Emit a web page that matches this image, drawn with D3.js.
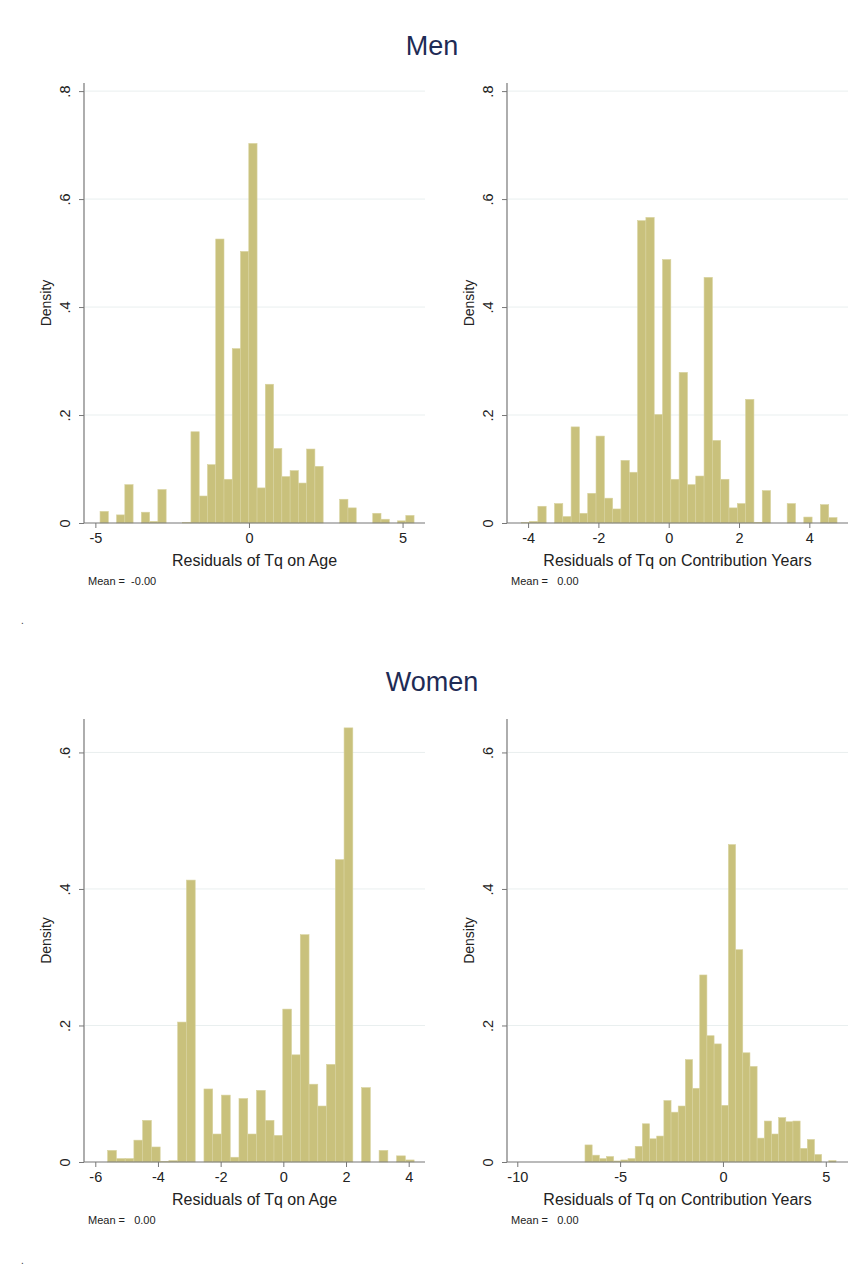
<!DOCTYPE html>
<html><head><meta charset="utf-8">
<script src="https://cdn.jsdelivr.net/npm/d3@7"></script>
<style>body{margin:0;background:#fff}svg{display:block}text{font-family:"Liberation Sans",Arial,sans-serif}</style>
</head><body>
<script>
// ---- data ----
const menAgeStart = -4.848, menAgeWidth = 0.269;
const menAgeDensity = [0.0215,0,0.015,0.071,0,0.02,0.003,0.062,0,0,0.001,0.169,0.05,0.108,0.526,0.081,0.323,0.503,0.703,0.065,0.257,0.138,0.086,0.097,0.074,0.137,0.105,0,0,0.044,0.028,0,0,0.018,0.007,0,0.004,0.014];
const menCyStart = -4.195, menCyWidth = 0.2364;
const menCyDensity = [0.001,0.003,0.031,0,0.036,0.012,0.178,0.018,0.055,0.161,0.046,0.026,0.116,0.094,0.56,0.566,0.201,0.488,0.081,0.279,0.071,0.087,0.455,0.153,0.081,0.028,0.036,0.229,0.001,0.06,0,0,0.036,0,0.011,0,0.034,0.01];
const womenAgeStart = -5.606, womenAgeWidth = 0.2794;
const womenAgeDensity = [0.017,0.005,0.005,0.032,0.061,0.022,0.001,0.002,0.205,0.413,0,0.107,0.041,0.098,0.007,0.093,0.041,0.105,0.061,0.039,0.224,0.157,0.333,0.114,0.082,0.143,0.443,0.636,0,0.109,0,0.017,0,0.009,0.003];
const womenCyStart = -6.708, womenCyWidth = 0.3487;
const womenCyDensity = [0.025,0.01,0.005,0.008,0.0015,0.003,0.005,0.023,0.056,0.034,0.038,0.09,0.073,0.082,0.15,0.108,0.274,0.185,0.173,0.083,0.465,0.311,0.16,0.14,0.035,0.06,0.041,0.065,0.059,0.06,0.02,0.033,0.011,0,0.002];

const menAgeXTicks = [-5,0,5];
const menCyXTicks = [-4,-2,0,2,4];
const womenAgeXTicks = [-6,-4,-2,0,2,4];
const womenCyXTicks = [-10,-5,0,5];
const menYTicks = [0,0.2,0.4,0.6,0.8];
const womenYTicks = [0,0.2,0.4,0.6];
const groupTitles = ["Men","Women"];
const xTitles = ["Residuals of Tq on Age","Residuals of Tq on Contribution Years"];
const meanLabels = ["Mean =  -0.00","Mean =   0.00","Mean =   0.00","Mean =   0.00"];

// ---- drawing ----
const W = 865, H = 1279;
const svg = d3.select("body").append("svg").attr("width", W).attr("height", H);

const fmtY = d => d === 0 ? "0" : d3.format(".1f")(d).replace(/^0/, "");

function panel(cfg) {
  const x = d3.scaleLinear().domain(cfg.xDomain).range([cfg.left, cfg.right]);
  const y = d3.scaleLinear().domain(cfg.yDomain).range([cfg.bottom, cfg.top]);
  const g = svg.append("g");
  // grid
  g.selectAll("line.grid").data(cfg.yTicks.filter(d => d > 0)).join("line")
    .attr("x1", cfg.left + 1).attr("x2", cfg.right).attr("y1", d => y(d)).attr("y2", d => y(d))
    .attr("stroke", "#e9efef").attr("stroke-width", 1);
  // bars
  const bins = cfg.density.map((d, i) => ({x0: cfg.start + i * cfg.width, x1: cfg.start + (i + 1) * cfg.width, v: d}));
  g.selectAll("rect.bar").data(bins.filter(b => b.v > 0)).join("rect")
    .attr("x", b => x(b.x0)).attr("width", b => x(b.x1) - x(b.x0))
    .attr("y", b => y(b.v)).attr("height", b => y(0) - y(b.v))
    .attr("fill", "#c9c17c").attr("stroke", "#d8d29e").attr("stroke-width", 0.6);
  // x axis
  const xa = g.append("g").attr("transform", `translate(0,${cfg.bottom})`)
    .call(d3.axisBottom(x).tickValues(cfg.xTicks).tickSize(5).tickPadding(5).tickFormat(d3.format("d")));
  xa.select(".domain").attr("stroke", "#777").attr("stroke-width", 1.2).attr("d", `M${cfg.left},0H${cfg.right}`);
  xa.selectAll(".tick line").attr("stroke", "#777");
  xa.selectAll(".tick text").attr("font-size", 14.5).attr("fill", "#222").text(d => d < 0 ? "-" + Math.abs(d) : d);
  // y axis
  const ya = g.append("g").attr("transform", `translate(${cfg.left},0)`)
    .call(d3.axisLeft(y).tickValues(cfg.yTicks).tickSize(5).tickFormat(fmtY));
  ya.select(".domain").attr("stroke", "#777").attr("stroke-width", 1.2).attr("d", `M0,${cfg.top}V${cfg.bottom}`);
  ya.selectAll(".tick line").attr("stroke", "#777");
  ya.selectAll(".tick text").attr("font-size", 14.5).attr("fill", "#222")
    .attr("text-anchor", "middle").attr("x", 0).attr("y", 0).attr("dy", "0.35em")
    .attr("transform", "translate(-19,0) rotate(-90)");
  // labels
  svg.append("text").attr("transform", `translate(${cfg.left - 33},${(cfg.top + cfg.bottom) / 2}) rotate(-90)`)
    .attr("text-anchor", "middle").attr("font-size", 14).attr("fill", "#222").text("Density");
  svg.append("text").attr("x", (cfg.left + cfg.right) / 2).attr("y", cfg.bottom + 43)
    .attr("text-anchor", "middle").attr("font-size", 16).attr("fill", "#222").text(cfg.xTitle);
  svg.append("text").attr("x", cfg.left + 4).attr("y", cfg.bottom + 62)
    .attr("font-size", 11).attr("fill", "#222").style("white-space", "pre").text(cfg.mean);
}

panel({left: 84, right: 425, top: 83, bottom: 523, xDomain: [-5.37, 5.73], yDomain: [0, 0.815],
  xTicks: menAgeXTicks, yTicks: menYTicks, start: menAgeStart, width: menAgeWidth, density: menAgeDensity,
  xTitle: xTitles[0], mean: meanLabels[0]});
panel({left: 507, right: 848, top: 83, bottom: 523, xDomain: [-4.6, 5.1], yDomain: [0, 0.815],
  xTicks: menCyXTicks, yTicks: menYTicks, start: menCyStart, width: menCyWidth, density: menCyDensity,
  xTitle: xTitles[1], mean: meanLabels[1]});
panel({left: 84, right: 425, top: 719, bottom: 1162, xDomain: [-6.36, 4.52], yDomain: [0, 0.649],
  xTicks: womenAgeXTicks, yTicks: womenYTicks, start: womenAgeStart, width: womenAgeWidth, density: womenAgeDensity,
  xTitle: xTitles[0], mean: meanLabels[2]});
panel({left: 507, right: 848, top: 719, bottom: 1162, xDomain: [-10.5, 6.08], yDomain: [0, 0.649],
  xTicks: womenCyXTicks, yTicks: womenYTicks, start: womenCyStart, width: womenCyWidth, density: womenCyDensity,
  xTitle: xTitles[1], mean: meanLabels[3]});

// group titles
svg.append("text").attr("x", 432).attr("y", 55).attr("text-anchor", "middle")
  .attr("font-size", 27).attr("fill", "#1e2b55").text(groupTitles[0]);
svg.append("text").attr("x", 432).attr("y", 691).attr("text-anchor", "middle")
  .attr("font-size", 27).attr("fill", "#1e2b55").text(groupTitles[1]);
// small dots
svg.append("text").attr("x", 21).attr("y", 624).attr("font-size", 10).attr("fill", "#333").text(".");
svg.append("text").attr("x", 21).attr("y", 1264).attr("font-size", 10).attr("fill", "#333").text(".");
</script>
</body></html>
